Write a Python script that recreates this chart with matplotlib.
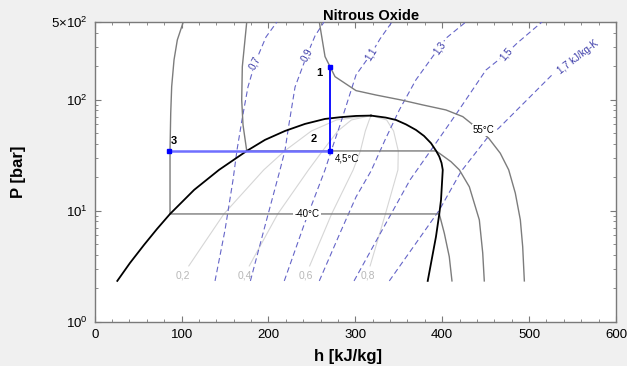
import numpy as np
import matplotlib
matplotlib.use('Agg')
import matplotlib.pyplot as plt
from matplotlib.ticker import MultipleLocator, FixedLocator, FixedFormatter, LogLocator, NullFormatter

plt.rcParams['font.family'] = ['Liberation Sans', 'DejaVu Sans']
plt.rcParams['mathtext.fontset'] = 'custom'
plt.rcParams['mathtext.rm'] = 'Liberation Sans'
plt.rcParams['mathtext.it'] = 'Liberation Sans:italic'
plt.rcParams['mathtext.bf'] = 'Liberation Sans:bold'

# ---------------- data (h in kJ/kg, P in bar) ----------------
dome_liq_h = [26.0, 40.6, 56.7, 71.7, 86.7, 114.5, 143.1, 175.0, 196.0, 219.0, 242.0,
              265.1, 282.3, 300.8, 318.0]
dome_liq_p = [2.33, 3.38, 4.91, 6.84, 9.34, 15.4, 23.3, 34.5, 43.4, 52.2, 60.4,
              67.0, 69.4, 71.3, 71.8]
dome_vap_h = [318.0, 335.0, 346.8, 358.3, 369.8, 379.0, 387.1, 393.0, 396.6, 399.2,
              400.6, 398.6, 396.6, 392.8, 383.3]
dome_vap_p = [71.8, 68.9, 65.6, 59.8, 53.3, 47.1, 40.5, 34.5, 30.7, 26.9,
              23.3, 12.5, 9.34, 5.83, 2.33]

# isotherms
iso_m40_h = [102.0, 95.1, 91.3, 88.6, 87.5, 86.7, 86.7, 396.6, 402.4, 408.1, 411.2]
iso_m40_p = [501, 345, 228, 131, 75.4, 35.2, 9.34, 9.34, 6.26, 3.85, 2.33]
iso_4_h = [175.0, 169.9, 169.2, 170.7, 175.0, 393.0, 410.1, 419.7, 431.2, 442.7, 446.6, 448.4]
iso_4_p = [501, 198, 99.3, 59.2, 34.5, 34.5, 27.6, 23.3, 16.4, 8.25, 4.16, 2.33]
iso_55_h = [258.5, 265.1, 276.6, 300.8, 323.8, 352.6, 377.5, 404.3, 423.6, 433.1,
            453.5, 466.8, 476.5, 484.1, 489.9, 492.6, 494.5]
iso_55_p = [501, 244, 161, 120.5, 110, 99.3, 89.6, 80.7, 70.3, 61.3,
            44.9, 32.9, 23.3, 14.4, 8.25, 4.74, 2.33]
iso_labels = ['-40°C', '4,5°C', '55°C']
iso_label_h = [244.4, 290.4, 447.9]
iso_label_p = [9.34, 29.2, 53.3]

# vapour quality lines
q_p = [3.18, 9.34, 23.3, 34.5, 52.2, 65.6, 71.8]
q02_h = [108.3, 148.7, 194.6, 218.6, 249.4, 278.4, 318.0]
q04_h = [177.9, 210.7, 246.1, 262.2, 279.8, 295.5, 318.0]
q06_h = [247.4, 272.7, 297.5, 305.8, 311.5, 316.0, 318.0]
q08_h = [317.0, 334.6, 349.0, 349.4, 344.0, 336.0, 318.0]
q_labels = ['0,2', '0,4', '0,6', '0,8']
q_label_h = [101.6, 173.0, 243.2, 314.2]
q_label_p = [2.58, 2.58, 2.58, 2.58]

# isentropes
s07_h = [138.5, 150.0, 159.2, 163.8, 169.5, 176.4, 184.5, 197.2, 209.8]
s07_p = [2.33, 6.70, 18.9, 35.2, 65.6, 130, 214, 367, 501]
s09_h = [179.2, 197.2, 213.3, 219.1, 223.1, 230.6, 244.4, 253.6, 264.0]
s09_p = [2.33, 7.91, 23.3, 35.2, 56.8, 130, 253, 375, 501]
s11_h = [218.2, 240.9, 265.1, 272.6, 282.4, 300.8, 318.1, 328.4, 342.2]
s11_p = [2.33, 7.43, 23.3, 35.2, 59.2, 167, 258, 352, 501]
s13_h = [258.5, 282.4, 300.8, 318.1, 334.2, 350.6, 369.8, 389.0, 396.9, 404.3, 427.3]
s13_p = [2.33, 6.30, 13.3, 22.8, 43.4, 80.7, 151, 244, 295, 357, 501]
s15_h = [298.5, 334.1, 362.9, 392.8, 416.7, 450.4, 473.4, 486.1, 514.9]
s15_p = [2.33, 7.43, 18.9, 40.7, 75.4, 185, 258, 322, 501]
s17_h = [339.1, 396.6, 421.6, 451.5, 465.0, 528.3]
s17_p = [2.33, 10.1, 22.5, 44.9, 55.3, 173]
s_labels = ['0,7', '0,9', '1,1', '1,3', '1,5', '1,7 kJ/kg-K']
s_label_h = [184.5, 244.4, 318.1, 396.9, 473.4, 556.2]
s_label_p = [214, 253, 258, 295, 258, 244]
s_label_rot = [62, 62, 58, 54, 50, 38]

# refrigeration cycle states 1, 2, 3
cycle_names = ['1', '2', '3']
cycle_h = [270.8, 270.8, 86.0]
cycle_p = [198.3, 34.5, 34.5]

xticks = [0, 100, 200, 300, 400, 500, 600]
yticks = [1, 10, 100, 500]
ytick_labels = [r'$10^{0}$', r'$10^{1}$', r'$10^{2}$', r'$5{\times}10^{2}$']

# ---------------- figure ----------------
W, H = 627, 366
fig = plt.figure(figsize=(W / 100, H / 100), dpi=100, facecolor='#f0f0f0')
L, R, T, B = 94.7, 616.0, 22.0, 321.7
ax = fig.add_axes([L / W, (H - B) / H, (R - L) / W, (B - T) / H])
ax.set_facecolor('white')
ax.set_yscale('log')
ax.set_xlim(0, 600)
ax.set_ylim(1, 500)

grey = '#7c7c7c'
qcol = '#d6d6d6'
scol = '#6565c8'
slab = '#3a3aa8'

# quality lines
for hh in (q02_h, q04_h, q06_h, q08_h):
    ax.plot(hh, q_p, color=qcol, lw=0.8, zorder=2)
for t, hx, px in zip(q_labels, q_label_h, q_label_p):
    ax.text(hx, px, t, color='#b8b8b8', fontsize=7.5, ha='center', va='center', zorder=6)

# isentropes
s_lines = [(s07_h, s07_p), (s09_h, s09_p), (s11_h, s11_p),
           (s13_h, s13_p), (s15_h, s15_p), (s17_h, s17_p)]
for hh, pp in s_lines:
    ax.plot(hh, pp, color=scol, lw=0.8, dashes=(5, 3), zorder=3)
for t, hx, px, rot in zip(s_labels, s_label_h, s_label_p, s_label_rot):
    ax.text(hx, px, t, color=slab, fontsize=7, ha='center', va='center',
            rotation=rot, rotation_mode='anchor', zorder=7,
            bbox=dict(facecolor='white', edgecolor='none', pad=0.6))

# isotherms
for hh, pp in ((iso_m40_h, iso_m40_p), (iso_4_h, iso_4_p), (iso_55_h, iso_55_p)):
    ax.plot(hh, pp, color=grey, lw=1.0, zorder=4)
for t, hx, px in zip(iso_labels, iso_label_h, iso_label_p):
    bb = None if t == '4,5°C' else dict(facecolor='white', edgecolor='none', pad=0.8)
    ax.text(hx, px, t, color='black', fontsize=7, ha='center', va='center', zorder=7, bbox=bb)

# saturation dome
ax.plot(dome_liq_h, dome_liq_p, color='black', lw=1.3, zorder=5)
ax.plot(dome_vap_h, dome_vap_p, color='black', lw=1.3, zorder=5)

# cycle
ax.plot(cycle_h[1:3], cycle_p[1:3], color='#6f6fff', lw=1.8, zorder=8)
ax.plot(cycle_h[0:2], cycle_p[0:2], color='#0000ff', lw=1.3, zorder=8)
ax.plot(cycle_h, cycle_p, ls='none', marker='s', ms=3.2, color='#0000ff', zorder=9)
offsets = [(-8, -4.5), (-11.5, 8.6), (2.9, 7.2)]
for t, hx, px, off in zip(cycle_names, cycle_h, cycle_p, offsets):
    ax.annotate(t, (hx, px), xytext=off, textcoords='offset points',
                ha='center', va='center', fontsize=8, fontweight='bold', zorder=10)

# axes styling
for s in ax.spines.values():
    s.set_color('#7a7a7a')
    s.set_linewidth(1.0)
ax.xaxis.set_major_locator(FixedLocator(xticks))
ax.xaxis.set_minor_locator(MultipleLocator(20))
ax.yaxis.set_major_locator(FixedLocator(yticks))
ax.yaxis.set_major_formatter(FixedFormatter(ytick_labels))
ax.yaxis.set_minor_locator(LogLocator(base=10, subs=np.arange(2, 10)))
ax.yaxis.set_minor_formatter(NullFormatter())
ax.tick_params(which='both', direction='in', top=True, right=True, color='#7a7a7a',
               labelsize=9.5)
ax.tick_params(which='major', length=4, width=0.8, pad=5)
ax.tick_params(which='minor', length=2.5, width=0.6)

ax.set_xlabel('h [kJ/kg]', fontsize=12, fontweight='bold', va='center')
ax.xaxis.set_label_coords(0.486, (B - 356) / (B - T))
ax.set_ylabel('P [bar]', fontsize=12, fontweight='bold', va='center')
ax.yaxis.set_label_coords((19 - L) / (R - L), 0.5)

fig.text(371 / W, 1 - 20.5 / H, 'Nitrous Oxide', ha='center', va='baseline',
         fontsize=10.5, fontweight='bold')

fig.savefig('out.png', dpi=100, facecolor=fig.get_facecolor())
